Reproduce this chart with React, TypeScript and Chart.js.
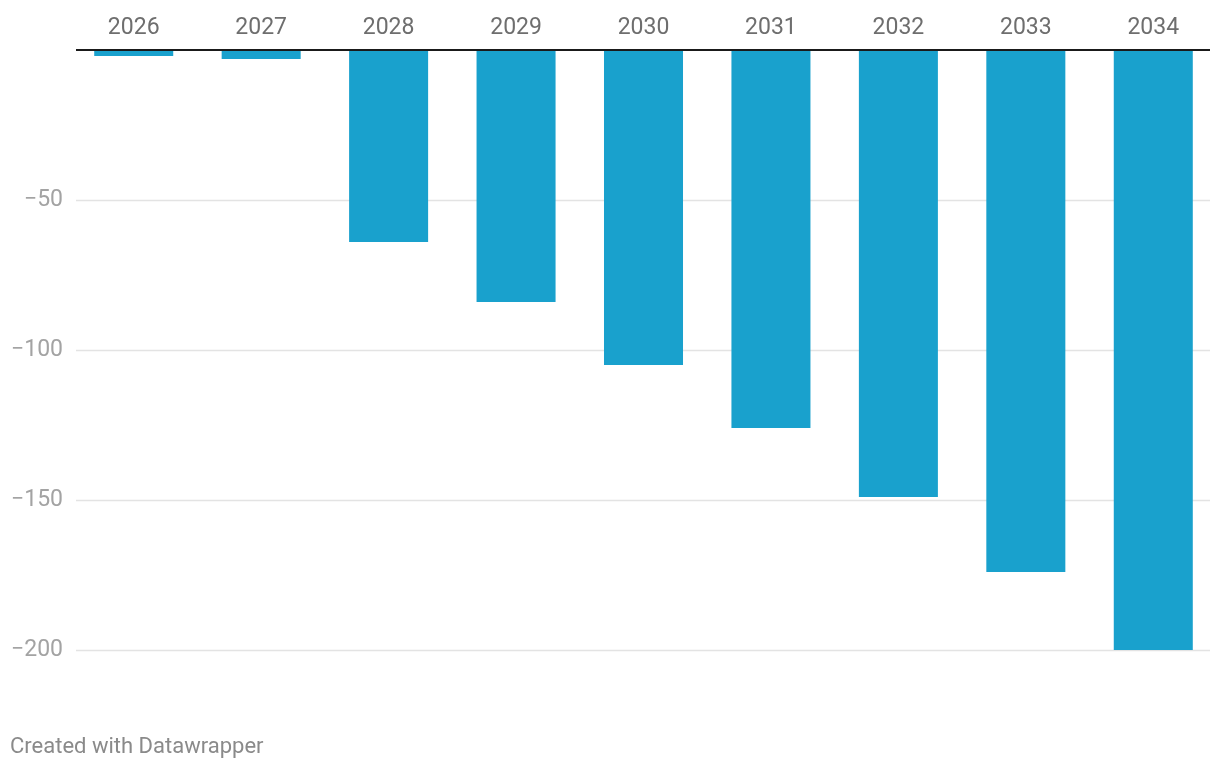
import React, { useEffect, useRef } from "react";
import { Chart, registerables } from "chart.js";

Chart.register(...registerables);

const years = ["2026", "2027", "2028", "2029", "2030", "2031", "2032", "2033", "2034"];
const values = [-2, -3, -64, -84, -105, -126, -149, -174, -200];
const yTicks = [-50, -100, -150, -200];

const gridPlugin = {
  id: "dwGrid",
  beforeDatasetsDraw(chart: any) {
    const { ctx, chartArea, scales } = chart;
    const y = scales.y;
    const x0 = chartArea.left + 6;
    const x1 = chartArea.right - 7;
    ctx.save();
    ctx.strokeStyle = "#e3e3e3";
    ctx.lineWidth = 1.5;
    for (const t of yTicks) {
      const py = Math.round(y.getPixelForValue(t)) + 0.5;
      ctx.beginPath();
      ctx.moveTo(x0, py);
      ctx.lineTo(x1, py);
      ctx.stroke();
    }
    ctx.restore();
  },
  afterDatasetsDraw(chart: any) {
    const { ctx, chartArea, scales } = chart;
    const y = scales.y;
    const x0 = chartArea.left + 6;
    const x1 = chartArea.right - 7;
    const py = y.getPixelForValue(0);
    ctx.save();
    ctx.strokeStyle = "#1a1a1a";
    ctx.lineWidth = 2;
    ctx.beginPath();
    ctx.moveTo(x0, py);
    ctx.lineTo(x1, py);
    ctx.stroke();
    ctx.restore();
  },
};

export default function App() {
  const ref = useRef<HTMLCanvasElement>(null);
  useEffect(() => {
    if (!ref.current) return;
    const chart = new Chart(ref.current, {
      type: "bar",
      data: {
        labels: years,
        datasets: [
          {
            data: values,
            backgroundColor: "#19a1cd",
            barPercentage: 0.62,
            categoryPercentage: 1,
          },
        ],
      },
      options: {
        animation: false,
        responsive: false,
        devicePixelRatio: 1,
        layout: { padding: { top: 0, right: 3, bottom: 120, left: 0 } },
        plugins: { legend: { display: false }, tooltip: { enabled: false } },
        scales: {
          x: {
            position: "top",
            grid: { display: false, drawTicks: false },
            border: { display: false },
            ticks: {
              color: "#6e6e6e",
              font: { family: "Roboto", size: 23 },
              padding: 8,
              maxRotation: 0,
            },
            afterFit(scale: any) {
              scale.height = 50;
            },
          },
          y: {
            min: -200,
            max: 0,
            grid: { display: false, drawTicks: false },
            border: { display: false },
            ticks: {
              stepSize: 50,
              color: "#a3a3a3",
              font: { family: "Roboto", size: 23 },
              padding: 7,
              callback: (v: any) => (v === 0 ? "" : "\u2212" + Math.abs(v)),
            },
            afterFit(scale: any) {
              scale.width = 70;
            },
          },
        },
      },
      plugins: [gridPlugin],
    });
    return () => chart.destroy();
  }, []);

  return (
    <div
      style={{
        position: "fixed",
        left: 0,
        top: 0,
        width: 1220,
        height: 770,
        background: "#fff",
        fontFamily: "Roboto",
      }}
    >
      <canvas ref={ref} width={1220} height={770} style={{ display: "block" }} />
      <div
        style={{
          position: "absolute",
          left: 10,
          top: 732,
          fontSize: 22,
          color: "#8a8a8a",
          fontFamily: "Roboto",
          lineHeight: "28px",
        }}
      >
        Created with Datawrapper
      </div>
    </div>
  );
}
